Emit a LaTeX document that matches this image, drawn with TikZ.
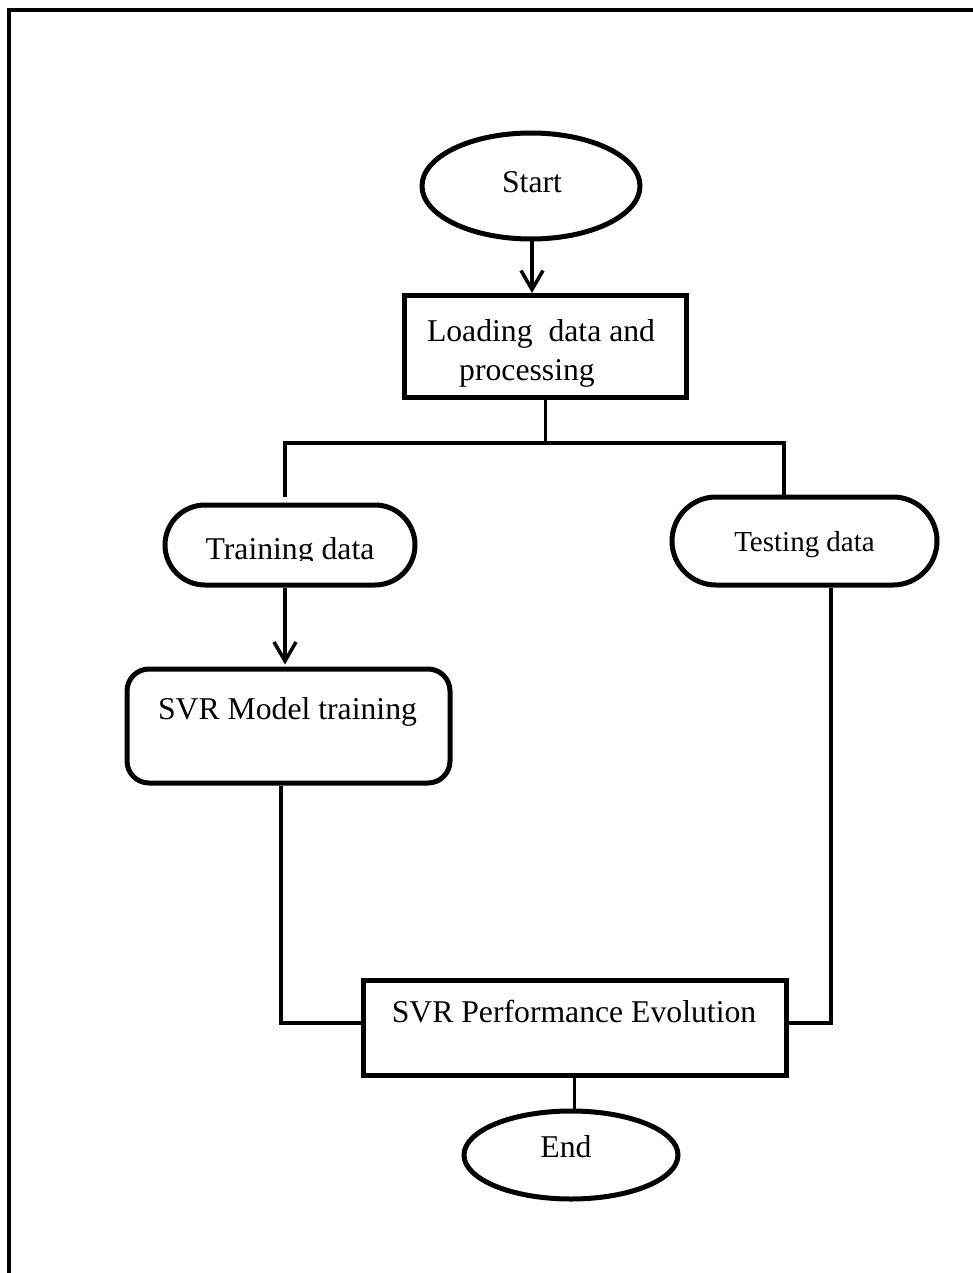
\documentclass[tikz,border=0pt]{standalone}
\usepackage{fontspec}
\setmainfont{Liberation Serif}
\usetikzlibrary{shapes.geometric,arrows.meta}
\begin{document}
\begin{tikzpicture}[x=1pt,y=-1pt,
  shapeline/.style={draw=black,line width=5pt,inner sep=0pt,fill=white},
  termnode/.style={shapeline,ellipse},
  procnode/.style={shapeline,rectangle},
  pillnode/.style={shapeline,rectangle,rounded corners=#1},
  txt/.style={inner sep=0pt,anchor=base,font=\fontsize{31.7}{38}\selectfont},
  conn/.style={line width=3.5pt},
  arr/.style={conn,-{Straight Barb[length=19pt,width=22pt]}}
]
\useasboundingbox (0,0) rectangle (973,1273);

% frame along the top and left edges
\draw[line width=4.5pt] (9,1273) -- (9,10) -- (973,10);

% flowchart shapes
\node[termnode,minimum width=218pt,minimum height=106pt] (start) at (531,186) {};
\node[procnode,minimum width=282pt,minimum height=102pt] (load) at (545.5,346.5) {};
\node[pillnode=40pt,minimum width=250pt,minimum height=80pt] (train) at (290,545) {};
\node[pillnode=44pt,minimum width=265pt,minimum height=88pt] (test) at (804.5,541) {};
\node[pillnode=22pt,minimum width=323pt,minimum height=114pt] (model) at (288.5,726) {};
\node[procnode,minimum width=423pt,minimum height=95pt] (perf) at (574.5,1027.5) {};
\node[termnode,minimum width=214pt,minimum height=88pt] (endnode) at (571,1155) {};

% branching points below the loading step
\coordinate (split) at (545.5,443);
\coordinate (lsplit) at (285,443);
\coordinate (rsplit) at (784,443);
\coordinate (ltop) at (285,497);

% connectors
\draw[arr] ([xshift=1pt]start.south) -- ([xshift=1pt]start.south |- load.north);
\draw[conn] (load.south) -- (split);
\draw[conn] (ltop) -- (lsplit) -- (rsplit) -- (rsplit |- test.north);
\draw[arr] ([xshift=-5pt]train.south) -- ([xshift=-5pt,yshift=2pt]train.south |- model.north);
\draw[conn] ([xshift=-7.5pt]model.south) |- ([yshift=4.5pt]perf.west);
\draw[conn] ([xshift=26.5pt]test.south) |- ([yshift=4.5pt]perf.east);
\draw[conn] (perf.south) -- (perf.south |- endnode.north);

% texts
\node[txt] (start-t) at (532,193) {Start};
\node[txt] (load-t1) at (541,341) {Loading\ \ data and};
\node[txt] (load-t2) at (527,380) {processing};
\begin{scope}
  \clip (150,500) rectangle (430,560);
  \node[txt] (train-t) at (290,559) {Training data};
\end{scope}
\node[txt,font=\fontsize{29}{35}\selectfont] (test-t) at (804.5,551) {Testing data};
\node[txt] (model-t) at (287.5,719) {SVR Model training};
\node[txt] (perf-t) at (574,1022) {SVR Performance Evolution};
\node[txt] (end-t) at (566,1157) {End};
\end{tikzpicture}
\end{document}
